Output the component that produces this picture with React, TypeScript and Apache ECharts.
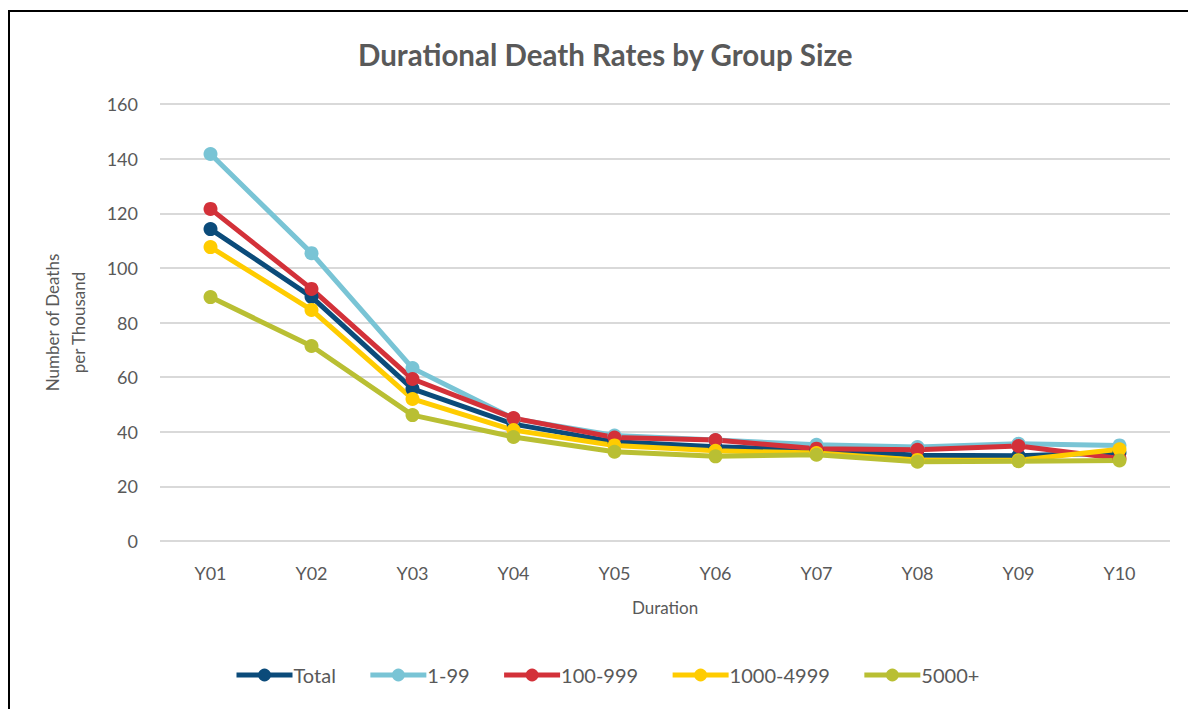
import React, { useEffect, useRef } from "react";
import * as echarts from "echarts";

const categories = ["Y01", "Y02", "Y03", "Y04", "Y05", "Y06", "Y07", "Y08", "Y09", "Y10"];
const total = [114.2, 89.4, 55.7, 42.8, 36.3, 34.5, 33.4, 31.4, 31.2, 32.3];
const g1_99 = [141.7, 105.4, 63.3, 44.8, 38.6, 37.0, 35.2, 34.4, 35.6, 35.0];
const g100_999 = [121.6, 92.3, 59.3, 45.0, 37.9, 37.0, 33.8, 33.4, 34.8, 30.2];
const g1000_4999 = [107.6, 84.6, 52.0, 40.6, 35.0, 33.0, 32.2, 29.7, 29.6, 33.6];
const g5000 = [89.3, 71.4, 46.1, 38.1, 32.7, 31.0, 31.6, 29.0, 29.2, 29.5];

const seriesNames = ["Total", "1-99", "100-999", "1000-4999", "5000+"];
const seriesColors = ["#0B4B7A", "#79C4D5", "#D33139", "#FFCC00", "#B9BF33"];
const seriesData = [total, g1_99, g100_999, g1000_4999, g5000];

const FONT = "Lato, 'Open Sans', sans-serif";
const TXT = "#595959";

export default function App() {
  const ref = useRef<HTMLDivElement>(null);
  useEffect(() => {
    if (!ref.current) return;
    const chart = echarts.init(ref.current, null, { renderer: "svg" });
    chart.setOption({
      animation: false,
      backgroundColor: "#fff",
      textStyle: { fontFamily: FONT },
      title: {
        text: "Durational Death Rates by Group Size",
        left: 353,
        top: 34,
        textStyle: { fontSize: 29.5, fontWeight: "bold", color: TXT, fontFamily: FONT },
      },
      graphic: [
        { type: "line", shape: { x1: 9, y1: 11, x2: 9, y2: 709 }, style: { stroke: "#000", lineWidth: 2 } },
        { type: "line", shape: { x1: 8, y1: 11, x2: 1188, y2: 11 }, style: { stroke: "#000", lineWidth: 2 } },
      ],
      legend: {
        bottom: 19,
        left: 229,
        itemWidth: 56,
        itemHeight: 16,
        itemGap: 32,
        lineStyle: { width: 5 },
        textStyle: { fontSize: 20, color: TXT, fontFamily: FONT, padding: [0, 0, 0, -4] },
        data: seriesNames,
      },
      grid: { left: 160, right: 18, top: 104, bottom: 168 },
      xAxis: {
        type: "category",
        data: categories,
        boundaryGap: true,
        name: "Duration",
        nameLocation: "middle",
        nameGap: 58,
        nameTextStyle: { fontSize: 17, color: TXT, fontFamily: FONT },
        axisLine: { show: false },
        axisTick: { show: false },
        axisLabel: { fontSize: 18, color: TXT, margin: 23, fontFamily: FONT },
      },
      yAxis: {
        type: "value",
        min: 0,
        max: 160,
        interval: 20,
        name: "Number of Deaths\nper Thousand",
        nameLocation: "middle",
        nameGap: 69,
        nameTextStyle: { fontSize: 17, color: TXT, fontFamily: FONT, lineHeight: 26 },
        axisLine: { show: false },
        axisTick: { show: false },
        axisLabel: { fontSize: 18, color: TXT, margin: 22, fontFamily: FONT },
        splitLine: { lineStyle: { color: "#D9D9D9", width: 2 } },
      },
      series: seriesNames.map((n, i) => ({
        name: n,
        type: "line",
        data: seriesData[i],
        symbol: "circle",
        symbolSize: 14,
        lineStyle: { width: 5, color: seriesColors[i] },
        itemStyle: { color: seriesColors[i] },
        emphasis: { disabled: true },
      })),
    });
    return () => chart.dispose();
  }, []);
  return (
    <div
      ref={ref}
      style={{ position: "absolute", left: 0, top: 0, width: 1188, height: 709 }}
    />
  );
}
